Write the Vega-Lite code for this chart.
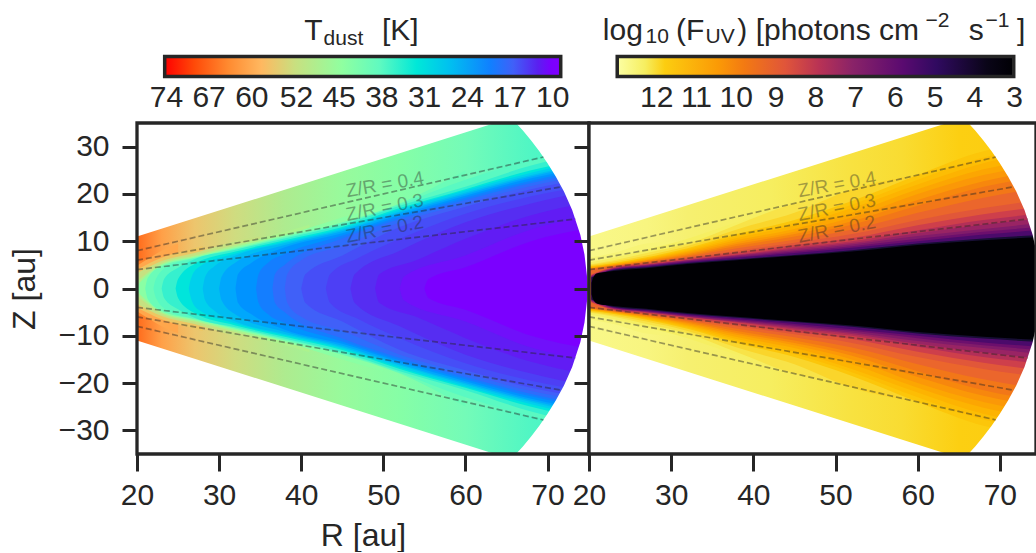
{"$schema":"https://vega.github.io/schema/vega-lite/v6.json","autosize":{"type":"pad"},"padding":{"left":8,"top":9.5,"right":0,"bottom":0},"background":"white","bounds":"flush","spacing":66.5,"config":{"view":{"stroke":null},"font":"Liberation Sans"},
"datasets":{
"back":[{"r":20,"hi":50,"lo":-50},{"r":76,"hi":50,"lo":-50}],
"temp":[
{"level":64,"r":20,"hi":5.5,"lo":-5.5},{"level":64,"r":22,"hi":6.9,"lo":-6.9},
{"level":60,"r":20,"hi":4.8,"lo":-4.8},{"level":60,"r":22,"hi":7,"lo":-7},{"level":60,"r":23,"hi":8,"lo":-8},{"level":60,"r":25,"hi":9.5,"lo":-9.5},
{"level":56,"r":20,"hi":4,"lo":-4},{"level":56,"r":23,"hi":6.5,"lo":-6.5},{"level":56,"r":27,"hi":8.5,"lo":-8.5},{"level":56,"r":28,"hi":9,"lo":-9},
{"level":52,"r":20,"hi":3.2,"lo":-3.2},{"level":52,"r":23,"hi":5.8,"lo":-5.8},{"level":52,"r":27,"hi":7.5,"lo":-7.5},{"level":52,"r":32,"hi":10,"lo":-10},{"level":52,"r":35,"hi":11,"lo":-11},
{"level":48,"r":20,"hi":1.5,"lo":-1.5},{"level":48,"r":23,"hi":5.3,"lo":-5.3},{"level":48,"r":27,"hi":7,"lo":-7},{"level":48,"r":32,"hi":9.2,"lo":-9.2},{"level":48,"r":38,"hi":12,"lo":-12},{"level":48,"r":41,"hi":13.5,"lo":-13.5},
{"level":44,"r":20,"hi":0.6,"lo":-0.6},{"level":44,"r":23,"hi":5,"lo":-5},{"level":44,"r":27,"hi":6.7,"lo":-6.7},{"level":44,"r":32,"hi":8.8,"lo":-8.8},{"level":44,"r":38,"hi":11.3,"lo":-11.3},{"level":44,"r":45,"hi":15,"lo":-15},{"level":44,"r":50,"hi":17.5,"lo":-17.5},
{"level":40,"r":21,"hi":0,"lo":0},{"level":40,"r":21.3,"hi":2.2,"lo":-2.2},{"level":40,"r":23,"hi":4.7,"lo":-4.7},{"level":40,"r":27,"hi":6.5,"lo":-6.5},{"level":40,"r":32,"hi":8.5,"lo":-8.5},{"level":40,"r":38,"hi":11,"lo":-11},{"level":40,"r":45,"hi":14,"lo":-14},{"level":40,"r":52,"hi":18,"lo":-18},{"level":40,"r":60,"hi":25,"lo":-25},
{"level":38,"r":22,"hi":0,"lo":0},{"level":38,"r":22.3,"hi":2,"lo":-2},{"level":38,"r":24,"hi":4.9,"lo":-4.9},{"level":38,"r":27,"hi":6.35,"lo":-6.35},{"level":38,"r":32,"hi":8.35,"lo":-8.35},{"level":38,"r":38,"hi":10.8,"lo":-10.8},{"level":38,"r":45,"hi":13.7,"lo":-13.7},{"level":38,"r":52,"hi":17.8,"lo":-17.8},{"level":38,"r":60,"hi":23,"lo":-23},{"level":38,"r":68,"hi":27,"lo":-27},{"level":38,"r":76,"hi":30,"lo":-30},
{"level":35,"r":23,"hi":0,"lo":0},{"level":35,"r":23.3,"hi":2,"lo":-2},{"level":35,"r":25,"hi":4.4,"lo":-4.4},{"level":35,"r":27,"hi":6.2,"lo":-6.2},{"level":35,"r":32,"hi":8.2,"lo":-8.2},{"level":35,"r":38,"hi":10.6,"lo":-10.6},{"level":35,"r":45,"hi":13.5,"lo":-13.5},{"level":35,"r":52,"hi":17.5,"lo":-17.5},{"level":35,"r":60,"hi":21.5,"lo":-21.5},{"level":35,"r":68,"hi":26,"lo":-26},{"level":35,"r":76,"hi":29,"lo":-29},
{"level":32,"r":24.7,"hi":0,"lo":0},{"level":32,"r":25,"hi":2,"lo":-2},{"level":32,"r":27,"hi":5.2,"lo":-5.2},{"level":32,"r":32,"hi":7.8,"lo":-7.8},{"level":32,"r":38,"hi":10.2,"lo":-10.2},{"level":32,"r":45,"hi":13,"lo":-13},{"level":32,"r":52,"hi":17,"lo":-17},{"level":32,"r":60,"hi":21,"lo":-21},{"level":32,"r":68,"hi":25,"lo":-25},{"level":32,"r":76,"hi":28,"lo":-28},
{"level":29,"r":26.3,"hi":0,"lo":0},{"level":29,"r":26.6,"hi":2.2,"lo":-2.2},{"level":29,"r":27.5,"hi":4.5,"lo":-4.5},{"level":29,"r":32,"hi":7.4,"lo":-7.4},{"level":29,"r":38,"hi":9.9,"lo":-9.9},{"level":29,"r":45,"hi":12.7,"lo":-12.7},{"level":29,"r":52,"hi":16.7,"lo":-16.7},{"level":29,"r":60,"hi":20.7,"lo":-20.7},{"level":29,"r":68,"hi":24.5,"lo":-24.5},{"level":29,"r":76,"hi":27.5,"lo":-27.5},
{"level":26.5,"r":28,"hi":0,"lo":0},{"level":26.5,"r":28.3,"hi":2.5,"lo":-2.5},{"level":26.5,"r":29.5,"hi":4.8,"lo":-4.8},{"level":26.5,"r":32,"hi":7,"lo":-7},{"level":26.5,"r":38,"hi":9.6,"lo":-9.6},{"level":26.5,"r":45,"hi":12.4,"lo":-12.4},{"level":26.5,"r":52,"hi":16.3,"lo":-16.3},{"level":26.5,"r":60,"hi":20.3,"lo":-20.3},{"level":26.5,"r":68,"hi":24,"lo":-24},{"level":26.5,"r":76,"hi":27,"lo":-27},
{"level":24,"r":30,"hi":0,"lo":0},{"level":24,"r":30.3,"hi":2.5,"lo":-2.5},{"level":24,"r":32,"hi":5.5,"lo":-5.5},{"level":24,"r":38,"hi":9.2,"lo":-9.2},{"level":24,"r":45,"hi":12.1,"lo":-12.1},{"level":24,"r":52,"hi":16,"lo":-16},{"level":24,"r":60,"hi":20,"lo":-20},{"level":24,"r":68,"hi":23.7,"lo":-23.7},{"level":24,"r":76,"hi":26.6,"lo":-26.6},
{"level":22,"r":32,"hi":0,"lo":0},{"level":22,"r":32.3,"hi":3,"lo":-3},{"level":22,"r":34,"hi":5.5,"lo":-5.5},{"level":22,"r":38,"hi":8.7,"lo":-8.7},{"level":22,"r":45,"hi":11.7,"lo":-11.7},{"level":22,"r":52,"hi":15.6,"lo":-15.6},{"level":22,"r":60,"hi":19.6,"lo":-19.6},{"level":22,"r":68,"hi":23.3,"lo":-23.3},{"level":22,"r":76,"hi":26,"lo":-26},
{"level":20,"r":34.5,"hi":0,"lo":0},{"level":20,"r":34.8,"hi":3,"lo":-3},{"level":20,"r":36,"hi":5.5,"lo":-5.5},{"level":20,"r":38,"hi":7.3,"lo":-7.3},{"level":20,"r":45,"hi":11.2,"lo":-11.2},{"level":20,"r":52,"hi":15.2,"lo":-15.2},{"level":20,"r":60,"hi":19.2,"lo":-19.2},{"level":20,"r":68,"hi":22.8,"lo":-22.8},{"level":20,"r":76,"hi":25.5,"lo":-25.5},
{"level":18,"r":36.5,"hi":0,"lo":0},{"level":18,"r":36.8,"hi":3,"lo":-3},{"level":18,"r":38,"hi":5,"lo":-5},{"level":18,"r":45,"hi":10.6,"lo":-10.6},{"level":18,"r":52,"hi":14.7,"lo":-14.7},{"level":18,"r":60,"hi":18.7,"lo":-18.7},{"level":18,"r":68,"hi":22.3,"lo":-22.3},{"level":18,"r":76,"hi":25,"lo":-25},
{"level":16.5,"r":38,"hi":0,"lo":0},{"level":16.5,"r":38.3,"hi":3,"lo":-3},{"level":16.5,"r":40,"hi":6,"lo":-6},{"level":16.5,"r":45,"hi":9,"lo":-9},{"level":16.5,"r":52,"hi":14,"lo":-14},{"level":16.5,"r":60,"hi":18,"lo":-18},{"level":16.5,"r":68,"hi":21.7,"lo":-21.7},{"level":16.5,"r":76,"hi":24.2,"lo":-24.2},
{"level":15,"r":40,"hi":0,"lo":0},{"level":15,"r":40.5,"hi":3,"lo":-3},{"level":15,"r":45,"hi":7,"lo":-7},{"level":15,"r":52,"hi":13,"lo":-13},{"level":15,"r":60,"hi":17.3,"lo":-17.3},{"level":15,"r":68,"hi":21,"lo":-21},{"level":15,"r":76,"hi":23.5,"lo":-23.5},
{"level":14,"r":43,"hi":0,"lo":0},{"level":14,"r":43.5,"hi":3,"lo":-3},{"level":14,"r":47,"hi":6.5,"lo":-6.5},{"level":14,"r":52,"hi":10.5,"lo":-10.5},{"level":14,"r":60,"hi":15.8,"lo":-15.8},{"level":14,"r":68,"hi":19.5,"lo":-19.5},{"level":14,"r":76,"hi":22,"lo":-22},
{"level":13,"r":46,"hi":0,"lo":0},{"level":13,"r":46.5,"hi":3,"lo":-3},{"level":13,"r":52,"hi":8,"lo":-8},{"level":13,"r":60,"hi":14,"lo":-14},{"level":13,"r":68,"hi":18,"lo":-18},{"level":13,"r":76,"hi":21,"lo":-21},
{"level":12,"r":49,"hi":0,"lo":0},{"level":12,"r":49.5,"hi":3,"lo":-3},{"level":12,"r":54,"hi":6,"lo":-6},{"level":12,"r":60,"hi":10.5,"lo":-10.5},{"level":12,"r":68,"hi":15.5,"lo":-15.5},{"level":12,"r":76,"hi":18.5,"lo":-18.5},
{"level":11,"r":52,"hi":0,"lo":0},{"level":11,"r":52.5,"hi":2.5,"lo":-2.5},{"level":11,"r":60,"hi":7,"lo":-7},{"level":11,"r":68,"hi":12.5,"lo":-12.5},{"level":11,"r":76,"hi":15.5,"lo":-15.5},
{"level":10,"r":55,"hi":0,"lo":0},{"level":10,"r":55.5,"hi":2,"lo":-2},{"level":10,"r":60,"hi":4.5,"lo":-4.5},{"level":10,"r":68,"hi":10,"lo":-10},{"level":10,"r":76,"hi":13,"lo":-13}
],
"flux":[
{"level":12.5,"r":20,"hi":6.5,"lo":-6.5},{"level":12.5,"r":23,"hi":7.5,"lo":-7.5},{"level":12.5,"r":27,"hi":9.5,"lo":-9.5},{"level":12.5,"r":31,"hi":10,"lo":-10},
{"level":12.3,"r":20,"hi":5.5,"lo":-5.5},{"level":12.3,"r":23,"hi":6.5,"lo":-6.5},{"level":12.3,"r":27,"hi":8.2,"lo":-8.2},{"level":12.3,"r":32,"hi":10.5,"lo":-10.5},{"level":12.3,"r":38,"hi":14,"lo":-14},{"level":12.3,"r":42,"hi":16,"lo":-16},
{"level":12.1,"r":20,"hi":5.1,"lo":-5.1},{"level":12.1,"r":23,"hi":6,"lo":-6},{"level":12.1,"r":27,"hi":7.5,"lo":-7.5},{"level":12.1,"r":32,"hi":9.5,"lo":-9.5},{"level":12.1,"r":38,"hi":13.5,"lo":-13.5},{"level":12.1,"r":45,"hi":18,"lo":-18},{"level":12.1,"r":52,"hi":20.5,"lo":-20.5},
{"level":11.9,"r":20,"hi":4.9,"lo":-4.9},{"level":11.9,"r":23,"hi":5.7,"lo":-5.7},{"level":11.9,"r":27,"hi":7,"lo":-7},{"level":11.9,"r":32,"hi":9,"lo":-9},{"level":11.9,"r":38,"hi":12.5,"lo":-12.5},{"level":11.9,"r":45,"hi":16,"lo":-16},{"level":11.9,"r":52,"hi":21,"lo":-21},{"level":11.9,"r":60,"hi":24,"lo":-24},
{"level":11.6,"r":20,"hi":4.7,"lo":-4.7},{"level":11.6,"r":23,"hi":5.4,"lo":-5.4},{"level":11.6,"r":27,"hi":6.6,"lo":-6.6},{"level":11.6,"r":32,"hi":8.5,"lo":-8.5},{"level":11.6,"r":38,"hi":11.5,"lo":-11.5},{"level":11.6,"r":45,"hi":14.5,"lo":-14.5},{"level":11.6,"r":52,"hi":18.5,"lo":-18.5},{"level":11.6,"r":60,"hi":24,"lo":-24},{"level":11.6,"r":68,"hi":29,"lo":-29},{"level":11.6,"r":76,"hi":31,"lo":-31},
{"level":11.35,"r":20,"hi":4.6,"lo":-4.6},{"level":11.35,"r":23,"hi":5.3,"lo":-5.3},{"level":11.35,"r":27,"hi":6.45,"lo":-6.45},{"level":11.35,"r":32,"hi":8.25,"lo":-8.25},{"level":11.35,"r":38,"hi":11.1,"lo":-11.1},{"level":11.35,"r":45,"hi":13.9,"lo":-13.9},{"level":11.35,"r":52,"hi":17.7,"lo":-17.7},{"level":11.35,"r":60,"hi":23,"lo":-23},{"level":11.35,"r":68,"hi":27.7,"lo":-27.7},{"level":11.35,"r":76,"hi":30,"lo":-30},
{"level":11.1,"r":20,"hi":4.5,"lo":-4.5},{"level":11.1,"r":23,"hi":5.2,"lo":-5.2},{"level":11.1,"r":27,"hi":6.3,"lo":-6.3},{"level":11.1,"r":32,"hi":8,"lo":-8},{"level":11.1,"r":38,"hi":10.7,"lo":-10.7},{"level":11.1,"r":45,"hi":13.3,"lo":-13.3},{"level":11.1,"r":52,"hi":17,"lo":-17},{"level":11.1,"r":60,"hi":22,"lo":-22},{"level":11.1,"r":68,"hi":26.5,"lo":-26.5},{"level":11.1,"r":76,"hi":29,"lo":-29},
{"level":10.75,"r":20,"hi":4.4,"lo":-4.4},{"level":10.75,"r":23,"hi":5.1,"lo":-5.1},{"level":10.75,"r":27,"hi":6.15,"lo":-6.15},{"level":10.75,"r":32,"hi":7.75,"lo":-7.75},{"level":10.75,"r":38,"hi":10.25,"lo":-10.25},{"level":10.75,"r":45,"hi":12.6,"lo":-12.6},{"level":10.75,"r":52,"hi":16,"lo":-16},{"level":10.75,"r":60,"hi":21,"lo":-21},{"level":10.75,"r":68,"hi":25.2,"lo":-25.2},{"level":10.75,"r":76,"hi":27.7,"lo":-27.7},
{"level":10.4,"r":20,"hi":4.3,"lo":-4.3},{"level":10.4,"r":23,"hi":5,"lo":-5},{"level":10.4,"r":27,"hi":6,"lo":-6},{"level":10.4,"r":32,"hi":7.5,"lo":-7.5},{"level":10.4,"r":38,"hi":9.8,"lo":-9.8},{"level":10.4,"r":45,"hi":12,"lo":-12},{"level":10.4,"r":52,"hi":15,"lo":-15},{"level":10.4,"r":60,"hi":20,"lo":-20},{"level":10.4,"r":68,"hi":24,"lo":-24},{"level":10.4,"r":76,"hi":26.5,"lo":-26.5},
{"level":10.05,"r":20,"hi":4.2,"lo":-4.2},{"level":10.05,"r":23,"hi":4.9,"lo":-4.9},{"level":10.05,"r":27,"hi":5.85,"lo":-5.85},{"level":10.05,"r":32,"hi":7.25,"lo":-7.25},{"level":10.05,"r":38,"hi":9.4,"lo":-9.4},{"level":10.05,"r":45,"hi":11.5,"lo":-11.5},{"level":10.05,"r":52,"hi":14.2,"lo":-14.2},{"level":10.05,"r":60,"hi":18.7,"lo":-18.7},{"level":10.05,"r":68,"hi":22.7,"lo":-22.7},{"level":10.05,"r":76,"hi":25.2,"lo":-25.2},
{"level":9.7,"r":20,"hi":4.1,"lo":-4.1},{"level":9.7,"r":23,"hi":4.8,"lo":-4.8},{"level":9.7,"r":27,"hi":5.7,"lo":-5.7},{"level":9.7,"r":32,"hi":7,"lo":-7},{"level":9.7,"r":38,"hi":9,"lo":-9},{"level":9.7,"r":45,"hi":11,"lo":-11},{"level":9.7,"r":52,"hi":13.5,"lo":-13.5},{"level":9.7,"r":60,"hi":17.5,"lo":-17.5},{"level":9.7,"r":68,"hi":21.5,"lo":-21.5},{"level":9.7,"r":76,"hi":24,"lo":-24},
{"level":9.25,"r":20,"hi":4,"lo":-4},{"level":9.25,"r":23,"hi":4.7,"lo":-4.7},{"level":9.25,"r":27,"hi":5.55,"lo":-5.55},{"level":9.25,"r":32,"hi":6.75,"lo":-6.75},{"level":9.25,"r":38,"hi":8.5,"lo":-8.5},{"level":9.25,"r":45,"hi":10.3,"lo":-10.3},{"level":9.25,"r":52,"hi":12.5,"lo":-12.5},{"level":9.25,"r":60,"hi":16,"lo":-16},{"level":9.25,"r":68,"hi":19.2,"lo":-19.2},{"level":9.25,"r":76,"hi":21.5,"lo":-21.5},
{"level":8.8,"r":20.3,"hi":3,"lo":-3},{"level":8.8,"r":23,"hi":4.6,"lo":-4.6},{"level":8.8,"r":27,"hi":5.4,"lo":-5.4},{"level":8.8,"r":32,"hi":6.5,"lo":-6.5},{"level":8.8,"r":38,"hi":8,"lo":-8},{"level":8.8,"r":45,"hi":9.7,"lo":-9.7},{"level":8.8,"r":52,"hi":11.5,"lo":-11.5},{"level":8.8,"r":60,"hi":14.5,"lo":-14.5},{"level":8.8,"r":68,"hi":17,"lo":-17},{"level":8.8,"r":76,"hi":19,"lo":-19},
{"level":8.3,"r":20.3,"hi":2.9,"lo":-2.9},{"level":8.3,"r":23,"hi":4.5,"lo":-4.5},{"level":8.3,"r":27,"hi":5.25,"lo":-5.25},{"level":8.3,"r":32,"hi":6.3,"lo":-6.3},{"level":8.3,"r":38,"hi":7.6,"lo":-7.6},{"level":8.3,"r":45,"hi":9.2,"lo":-9.2},{"level":8.3,"r":52,"hi":10.7,"lo":-10.7},{"level":8.3,"r":60,"hi":13.4,"lo":-13.4},{"level":8.3,"r":68,"hi":15.7,"lo":-15.7},{"level":8.3,"r":76,"hi":17.5,"lo":-17.5},
{"level":7.8,"r":20.3,"hi":2.8,"lo":-2.8},{"level":7.8,"r":23,"hi":4.4,"lo":-4.4},{"level":7.8,"r":27,"hi":5.1,"lo":-5.1},{"level":7.8,"r":32,"hi":6.1,"lo":-6.1},{"level":7.8,"r":38,"hi":7.2,"lo":-7.2},{"level":7.8,"r":45,"hi":8.7,"lo":-8.7},{"level":7.8,"r":52,"hi":10,"lo":-10},{"level":7.8,"r":60,"hi":12.3,"lo":-12.3},{"level":7.8,"r":68,"hi":14.5,"lo":-14.5},{"level":7.8,"r":76,"hi":16,"lo":-16},
{"level":7.3,"r":20.3,"hi":2.7,"lo":-2.7},{"level":7.3,"r":23,"hi":4.3,"lo":-4.3},{"level":7.3,"r":27,"hi":5,"lo":-5},{"level":7.3,"r":32,"hi":6,"lo":-6},{"level":7.3,"r":38,"hi":7.05,"lo":-7.05},{"level":7.3,"r":45,"hi":8.4,"lo":-8.4},{"level":7.3,"r":52,"hi":9.6,"lo":-9.6},{"level":7.3,"r":60,"hi":11.7,"lo":-11.7},{"level":7.3,"r":68,"hi":13.5,"lo":-13.5},{"level":7.3,"r":76,"hi":15,"lo":-15},
{"level":6.8,"r":20.3,"hi":2.6,"lo":-2.6},{"level":6.8,"r":23,"hi":4.2,"lo":-4.2},{"level":6.8,"r":27,"hi":4.9,"lo":-4.9},{"level":6.8,"r":32,"hi":5.9,"lo":-5.9},{"level":6.8,"r":38,"hi":6.9,"lo":-6.9},{"level":6.8,"r":45,"hi":8.1,"lo":-8.1},{"level":6.8,"r":52,"hi":9.3,"lo":-9.3},{"level":6.8,"r":60,"hi":11.1,"lo":-11.1},{"level":6.8,"r":68,"hi":12.6,"lo":-12.6},{"level":6.8,"r":76,"hi":14,"lo":-14},
{"level":6.2,"r":20.3,"hi":2.5,"lo":-2.5},{"level":6.2,"r":23,"hi":4.1,"lo":-4.1},{"level":6.2,"r":27,"hi":4.8,"lo":-4.8},{"level":6.2,"r":32,"hi":5.75,"lo":-5.75},{"level":6.2,"r":38,"hi":6.7,"lo":-6.7},{"level":6.2,"r":45,"hi":7.8,"lo":-7.8},{"level":6.2,"r":52,"hi":8.95,"lo":-8.95},{"level":6.2,"r":60,"hi":10.5,"lo":-10.5},{"level":6.2,"r":68,"hi":12,"lo":-12},{"level":6.2,"r":76,"hi":13.2,"lo":-13.2},
{"level":5.5,"r":20.3,"hi":2.4,"lo":-2.4},{"level":5.5,"r":23,"hi":4,"lo":-4},{"level":5.5,"r":27,"hi":4.7,"lo":-4.7},{"level":5.5,"r":32,"hi":5.6,"lo":-5.6},{"level":5.5,"r":38,"hi":6.5,"lo":-6.5},{"level":5.5,"r":45,"hi":7.5,"lo":-7.5},{"level":5.5,"r":52,"hi":8.6,"lo":-8.6},{"level":5.5,"r":60,"hi":10,"lo":-10},{"level":5.5,"r":68,"hi":11.4,"lo":-11.4},{"level":5.5,"r":76,"hi":12.5,"lo":-12.5},
{"level":4.2,"r":20.3,"hi":2.3,"lo":-2.3},{"level":4.2,"r":23,"hi":3.9,"lo":-3.9},{"level":4.2,"r":27,"hi":4.5,"lo":-4.5},{"level":4.2,"r":32,"hi":5.4,"lo":-5.4},{"level":4.2,"r":38,"hi":6.2,"lo":-6.2},{"level":4.2,"r":45,"hi":7.1,"lo":-7.1},{"level":4.2,"r":52,"hi":8.1,"lo":-8.1},{"level":4.2,"r":60,"hi":9.5,"lo":-9.5},{"level":4.2,"r":68,"hi":10.6,"lo":-10.6},{"level":4.2,"r":76,"hi":11.4,"lo":-11.4},
{"level":3,"r":20.3,"hi":1.2,"lo":-1.2},{"level":3,"r":20.6,"hi":2.6,"lo":-2.6},{"level":3,"r":21,"hi":3.2,"lo":-3.2},{"level":3,"r":22,"hi":3.5,"lo":-3.5},{"level":3,"r":27,"hi":4.3,"lo":-4.3},{"level":3,"r":32,"hi":5.2,"lo":-5.2},{"level":3,"r":38,"hi":6,"lo":-6},{"level":3,"r":45,"hi":6.9,"lo":-6.9},{"level":3,"r":52,"hi":7.8,"lo":-7.8},{"level":3,"r":60,"hi":9.2,"lo":-9.2},{"level":3,"r":68,"hi":10.2,"lo":-10.2},{"level":3,"r":76,"hi":11,"lo":-11}
],
"edge":[{"r":20,"up":11,"down":-11},{"r":65.6,"up":36.1,"down":-36.1},{"r":66,"up":35.3,"down":-35.3},{"r":67,"up":33.4,"down":-33.4},{"r":68,"up":31.3,"down":-31.3},{"r":69,"up":29,"down":-29},{"r":70,"up":26.5,"down":-26.5},{"r":71,"up":23.7,"down":-23.7},{"r":72,"up":20.5,"down":-20.5},{"r":73,"up":16.6,"down":-16.6},{"r":74,"up":11.3,"down":-11.3},{"r":74.5,"up":7.2,"down":-7.2},{"r":74.8,"up":2.7,"down":-2.7},{"r":74.85,"up":0,"down":0},{"r":76,"up":0,"down":0}],
"ratio":[{"k":"a","r":20,"z":8},{"k":"a","r":69.5,"z":27.8},{"k":"b","r":20,"z":6},{"k":"b","r":71.7,"z":21.5},{"k":"c","r":20,"z":4},{"k":"c","r":73.4,"z":14.7},{"k":"d","r":20,"z":-8},{"k":"d","r":69.5,"z":-27.8},{"k":"e","r":20,"z":-6},{"k":"e","r":71.7,"z":-21.5},{"k":"f","r":20,"z":-4},{"k":"f","r":73.4,"z":-14.7}],
"ratioLabels":[{"label":"Z/R = 0.4","r":45.6,"z":19.3,"tilt":-10},{"label":"Z/R = 0.3","r":45.6,"z":14.3,"tilt":-11},{"label":"Z/R = 0.2","r":45.6,"z":9.7,"tilt":-11}]
},
"vconcat":[
{"spacing":0,"bounds":"flush","hconcat":[
{"width":452,"height":20,"layer":[
{"data":{"values":[{"a":74.2,"b":8.4,"y0":0,"y1":1}]},"mark":{"type":"rect","stroke":"#262626","strokeWidth":3.5,"color":{"gradient":"linear","x1":0,"y1":0,"x2":1,"y2":0,"stops":[{"offset":0,"color":"#ff0000"},{"offset":0.075,"color":"#ff4a08"},{"offset":0.16,"color":"#ff8a30"},{"offset":0.244,"color":"#ffb860"},{"offset":0.33,"color":"#c8e080"},{"offset":0.447,"color":"#90ffa0"},{"offset":0.542,"color":"#60fac0"},{"offset":0.636,"color":"#00e8d8"},{"offset":0.72,"color":"#00c0f0"},{"offset":0.822,"color":"#1080ff"},{"offset":0.88,"color":"#4060f8"},{"offset":0.942,"color":"#5a20f0"},{"offset":0.976,"color":"#7a00ff"},{"offset":1,"color":"#8000ff"}]}},
"encoding":{"x":{"field":"a","type":"quantitative","scale":{"domain":[78.8,3.7],"nice":false,"zero":false},"axis":{"values":[74,66.9,59.8,52.4,45.3,38.2,31.1,24,16.9,9.8],"format":".0f","title":null,"domain":false,"ticks":false,"labelFontSize":30,"labelColor":"#262626","labelPadding":6,"labelFlush":false,"labelOverlap":false,"grid":false}},"x2":{"field":"b"},"y":{"field":"y0","type":"quantitative","scale":{"domain":[0,1],"nice":false},"axis":null},"y2":{"field":"y1"}}},
{"data":{"values":[{"label":"T","x":51,"y":1.825,"s":30},{"label":"dust","x":47.8,"y":1.575,"s":21},{"label":"[K]","x":38.1,"y":1.825,"s":30}]},"mark":{"type":"text","align":"left","baseline":"alphabetic","color":"#262626"},
"encoding":{"x":{"field":"x","type":"quantitative","scale":{"domain":[78.8,3.7],"nice":false,"zero":false}},"y":{"field":"y","type":"quantitative","scale":{"domain":[0,1],"nice":false},"axis":null},"text":{"field":"label"},"size":{"field":"s","type":"quantitative","scale":null}}}
]},
{"width":447,"height":20,"layer":[
{"data":{"values":[{"a":12.98,"b":3.01,"y0":0,"y1":1}]},"mark":{"type":"rect","stroke":"#262626","strokeWidth":3.5,"color":{"gradient":"linear","x1":0,"y1":0,"x2":1,"y2":0,"stops":[{"offset":0,"color":"#fcffa4"},{"offset":0.07,"color":"#f6ee60"},{"offset":0.12,"color":"#fccd10"},{"offset":0.254,"color":"#fb9a06"},{"offset":0.32,"color":"#f37a12"},{"offset":0.424,"color":"#e0553a"},{"offset":0.51,"color":"#b83255"},{"offset":0.593,"color":"#8a2368"},{"offset":0.72,"color":"#5a0a70"},{"offset":0.805,"color":"#300a60"},{"offset":0.932,"color":"#0a0518"},{"offset":1,"color":"#000004"}]}},
"encoding":{"x":{"field":"a","type":"quantitative","scale":{"domain":[13.69,2.45],"nice":false,"zero":false},"axis":{"values":[12,11,10,9,8,7,6,5,4,3],"format":"d","title":null,"domain":false,"ticks":false,"labelFontSize":30,"labelColor":"#262626","labelPadding":6,"labelFlush":false,"labelOverlap":false,"grid":false}},"x2":{"field":"b"},"y":{"field":"y0","type":"quantitative","scale":{"domain":[0,1],"nice":false},"axis":null},"y2":{"field":"y1"}}},
{"data":{"values":[{"label":"log","x":13.343,"y":1.85,"s":30},{"label":"10","x":12.27,"y":1.66,"s":21},{"label":"(F","x":11.5,"y":1.85,"s":30},{"label":"UV","x":10.76,"y":1.66,"s":21},{"label":") [photons cm","x":9.96,"y":1.85,"s":30},{"label":"−2","x":5.23,"y":2.49,"s":21},{"label":"s","x":4.14,"y":1.85,"s":30},{"label":"−1","x":3.72,"y":2.49,"s":21},{"label":"]","x":2.93,"y":1.85,"s":30}]},"mark":{"type":"text","align":"left","baseline":"alphabetic","color":"#262626"},
"encoding":{"x":{"field":"x","type":"quantitative","scale":{"domain":[13.69,2.45],"nice":false,"zero":false}},"y":{"field":"y","type":"quantitative","scale":{"domain":[0,1],"nice":false},"axis":null},"text":{"field":"label"},"size":{"field":"s","type":"quantitative","scale":null}}}
]}
]},
{"spacing":0,"bounds":"flush","resolve":{"scale":{"color":"independent"}},"hconcat":[
{"width":452,"height":331,"layer":[
{"data":{"name":"back"},"mark":{"type":"area","clip":true,"color":{"gradient":"linear","x1":0,"y1":0,"x2":1,"y2":0,"stops":[{"offset":0,"color":"#ff6b1c"},{"offset":0.054,"color":"#ffa048"},{"offset":0.125,"color":"#edc56d"},{"offset":0.214,"color":"#cfdc80"},{"offset":0.321,"color":"#aeeb8f"},{"offset":0.446,"color":"#98fa9c"},{"offset":0.571,"color":"#86fea6"},{"offset":0.714,"color":"#74fbb8"},{"offset":0.857,"color":"#50f6c4"},{"offset":1,"color":"#40f4ca"}]}},
"encoding":{"x":{"field":"r","type":"quantitative","scale":{"domain":[20,75.05],"nice":false,"zero":false},"axis":{"values":[20,30,40,50,60,70],"title":"R [au]","titleFontSize":32,"titleFontWeight":"normal","titleColor":"#262626","titlePadding":10,"labelFontSize":30,"labelColor":"#262626","labelPadding":9,"labelFlush":false,"tickSize":17,"tickWidth":3,"tickColor":"#262626","domain":false,"grid":false,"zindex":1}},
"y":{"field":"hi","type":"quantitative","scale":{"domain":[-35,35],"nice":false,"zero":false},"axis":{"values":[-30,-20,-10,0,10,20,30],"title":"Z [au]","titleFontSize":32,"titleFontWeight":"normal","titleColor":"#262626","titlePadding":17,"labelFontSize":30,"labelColor":"#262626","labelPadding":13,"tickSize":15,"tickWidth":3,"tickColor":"#262626","domain":false,"grid":false,"zindex":1}},"y2":{"field":"lo"}}},
{"data":{"name":"temp"},"mark":{"type":"area","interpolate":"monotone","clip":true},
"encoding":{"x":{"field":"r","type":"quantitative"},"y":{"field":"hi","type":"quantitative"},
"y2":{"field":"lo"},"detail":{"field":"level"},
"color":{"field":"level","type":"quantitative","legend":null,"scale":{"domain":[8.4,10.3,12.5,16.5,20.3,26.9,32.4,38.5,44.7,52.3,57.9,63.4,68.9,74.2],"range":["#8000ff","#7a00ff","#5a20f0","#4060f8","#1080ff","#00c0f0","#00e8d8","#60fac0","#90ffa0","#c8e080","#ffb860","#ff8a30","#ff4a08","#ff0000"]}}}},
{"data":{"name":"edge"},"mark":{"type":"area","color":"white","clip":true},"encoding":{"x":{"field":"r","type":"quantitative"},"y":{"field":"up","type":"quantitative"},"y2":{"datum":40}}},
{"data":{"name":"edge"},"mark":{"type":"area","color":"white","clip":true},"encoding":{"x":{"field":"r","type":"quantitative"},"y":{"field":"down","type":"quantitative"},"y2":{"datum":-40}}},
{"data":{"name":"ratio"},"mark":{"type":"line","color":"#262626","opacity":0.45,"strokeWidth":1.7,"strokeDash":[6,3],"clip":true},"encoding":{"x":{"field":"r","type":"quantitative"},"y":{"field":"z","type":"quantitative"},"detail":{"field":"k"}}},
{"data":{"name":"ratioLabels"},"mark":{"type":"text","align":"left","baseline":"alphabetic","fontSize":19,"color":"#262626","opacity":0.4},"encoding":{"x":{"field":"r","type":"quantitative"},"y":{"field":"z","type":"quantitative"},"text":{"field":"label"},"angle":{"field":"tilt","type":"quantitative","scale":null}}},
{"data":{"values":[{"r0":20,"r1":75.05,"z0":-35,"z1":35}]},"mark":{"type":"rect","filled":false,"stroke":"#262626","strokeWidth":3.3},"encoding":{"x":{"field":"r0","type":"quantitative"},"x2":{"field":"r1"},"y":{"field":"z0","type":"quantitative"},"y2":{"field":"z1"}}}
]},
{"width":447,"height":331,"layer":[
{"data":{"name":"back"},"mark":{"type":"area","clip":true,"color":{"gradient":"linear","x1":0,"y1":0,"x2":1,"y2":0,"stops":[{"offset":0,"color":"#f9f889"},{"offset":0.125,"color":"#f8f580"},{"offset":0.214,"color":"#f6f070"},{"offset":0.393,"color":"#f6ee60"},{"offset":0.571,"color":"#f8e240"},{"offset":0.679,"color":"#f9dc32"},{"offset":0.804,"color":"#fccf12"},{"offset":1,"color":"#fccb10"}]}},
"encoding":{"x":{"field":"r","type":"quantitative","scale":{"domain":[20,74.4],"nice":false,"zero":false},"axis":{"values":[20,30,40,50,60,70],"title":null,"labelFontSize":30,"labelColor":"#262626","labelPadding":9,"labelFlush":false,"tickSize":17,"tickWidth":3,"tickColor":"#262626","domain":false,"grid":false,"zindex":1}},
"y":{"field":"hi","type":"quantitative","scale":{"domain":[-35,35],"nice":false,"zero":false},"axis":{"values":[-30,-20,-10,0,10,20,30],"title":null,"labels":false,"tickSize":15,"tickWidth":3,"tickColor":"#262626","domain":false,"grid":false,"zindex":1}},"y2":{"field":"lo"}}},
{"data":{"name":"flux"},"mark":{"type":"area","interpolate":"monotone","clip":true},
"encoding":{"x":{"field":"r","type":"quantitative"},"y":{"field":"hi","type":"quantitative"},
"y2":{"field":"lo"},"detail":{"field":"level"},
"color":{"field":"level","type":"quantitative","legend":null,"scale":{"domain":[3,3.69,4.95,5.8,7.07,7.9,8.75,9.79,10.45,11.78,12.28,12.98],"range":["#000004","#0a0518","#300a60","#5a0a70","#8a2368","#b83255","#e0553a","#f37a12","#fb9a06","#fccd10","#f6ee60","#fcffa4"]}}}},
{"data":{"name":"edge"},"mark":{"type":"area","color":"white","clip":true},"encoding":{"x":{"field":"r","type":"quantitative"},"y":{"field":"up","type":"quantitative"},"y2":{"datum":40}}},
{"data":{"name":"edge"},"mark":{"type":"area","color":"white","clip":true},"encoding":{"x":{"field":"r","type":"quantitative"},"y":{"field":"down","type":"quantitative"},"y2":{"datum":-40}}},
{"data":{"name":"ratio"},"mark":{"type":"line","color":"#262626","opacity":0.45,"strokeWidth":1.7,"strokeDash":[6,3],"clip":true},"encoding":{"x":{"field":"r","type":"quantitative"},"y":{"field":"z","type":"quantitative"},"detail":{"field":"k"}}},
{"data":{"name":"ratioLabels"},"mark":{"type":"text","align":"left","baseline":"alphabetic","fontSize":19,"color":"#262626","opacity":0.4},"encoding":{"x":{"field":"r","type":"quantitative"},"y":{"field":"z","type":"quantitative"},"text":{"field":"label"},"angle":{"field":"tilt","type":"quantitative","scale":null}}},
{"data":{"values":[{"r0":20,"r1":74.4,"z0":-35,"z1":35}]},"mark":{"type":"rect","filled":false,"stroke":"#262626","strokeWidth":3.3},"encoding":{"x":{"field":"r0","type":"quantitative"},"x2":{"field":"r1"},"y":{"field":"z0","type":"quantitative"},"y2":{"field":"z1"}}}
]}
]}
]}
